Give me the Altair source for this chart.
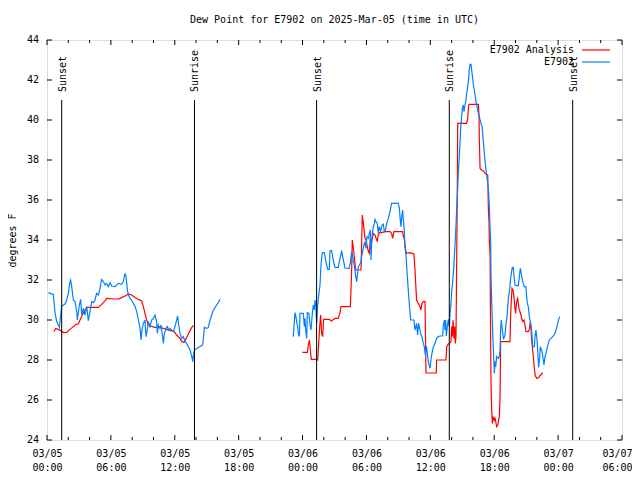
import altair as alt
import pandas as pd

MONO = "DejaVu Sans Mono"
TITLE = "Dew Point for E7902 on 2025-Mar-05 (time in UTC)"
Y_TITLE = "degrees F"
SERIES = ["E7902 Analysis", "E7902"]
COLORS = ["#ff0000", "#0080ff"]

# (hours after 2025-03-05 00:00 UTC, dew point in deg F)
analysis_day1 = [
    (0.66, 29.42), (0.81, 29.58), (1.06, 29.53), (1.28, 29.47), (1.53, 29.37), (1.85, 29.38),
    (2.16, 29.53), (2.47, 29.67), (2.72, 29.78), (2.94, 29.8), (3.10, 30.0), (3.32, 30.25),
    (3.57, 30.5), (3.73, 30.63), (4.82, 30.63), (5.13, 30.78), (5.45, 30.95), (5.60, 31.08),
    (6.23, 31.05), (6.70, 31.05), (7.01, 31.12), (7.33, 31.2), (7.64, 31.3), (7.95, 31.25),
    (8.27, 31.13), (8.58, 31.03), (8.89, 30.95), (9.05, 30.67), (9.20, 30.33), (9.36, 30.0),
    (9.52, 29.75), (9.67, 29.7), (10.14, 29.63), (10.61, 29.63), (10.93, 29.58), (11.24, 29.53),
    (11.55, 29.47), (11.87, 29.47), (12.02, 29.37), (12.18, 29.25), (12.49, 29.08), (12.65, 28.92),
    (12.87, 28.88), (13.02, 29.03), (13.27, 29.3), (13.49, 29.53), (13.68, 29.7), (13.84, 29.7),
]

analysis_day2 = [
    (23.98, 28.38), (24.45, 28.38), (24.54, 28.75), (24.64, 29.0), (24.73, 28.5), (24.82, 28.03),
    (25.32, 28.03), (25.42, 28.0), (25.51, 28.83), (25.61, 29.67), (25.70, 30.25), (25.79, 29.33),
    (25.89, 29.17), (25.98, 30.03), (26.51, 30.03), (26.73, 29.95), (26.89, 30.03), (27.05, 30.08),
    (27.36, 30.08), (27.52, 30.37), (27.61, 30.67), (28.49, 30.67), (28.55, 31.5), (28.61, 32.5),
    (28.67, 34.0), (28.77, 33.58), (28.86, 33.17), (28.99, 32.5), (29.49, 32.5), (29.55, 33.83),
    (29.61, 35.25), (29.71, 34.83), (29.80, 34.42), (29.86, 34.08), (29.96, 34.0), (30.05, 33.75),
    (30.11, 33.58), (30.18, 33.42), (30.27, 33.33), (30.37, 34.17), (30.43, 33.83), (30.55, 34.08),
    (30.65, 34.33), (30.80, 34.25), (31.02, 33.92), (31.11, 34.25), (31.27, 34.37), (31.43, 34.37),
    (31.74, 34.42), (32.21, 34.42), (32.36, 34.33), (32.46, 34.08), (32.58, 34.42), (33.40, 34.42),
    (33.46, 34.17), (33.55, 34.08), (33.65, 33.58), (33.77, 33.33), (34.09, 33.37), (34.46, 33.3),
    (34.56, 32.5), (34.65, 31.58), (34.71, 31.0), (34.87, 30.83), (35.03, 30.67), (35.12, 30.5),
    (35.21, 30.83), (35.34, 30.92), (35.50, 30.92), (35.59, 27.35), (36.56, 27.35), (36.59, 28.0),
    (37.47, 28.0), (37.54, 28.67), (37.69, 28.8), (37.79, 28.83), (37.94, 28.92), (38.0, 29.67),
    (38.07, 29.17), (38.13, 30.0), (38.22, 29.08), (38.29, 29.67), (38.35, 28.83), (38.41, 29.17),
    (38.48, 33.25), (38.54, 37.08), (38.57, 39.83), (39.41, 39.83), (39.51, 40.08), (39.60, 40.75),
    (39.67, 40.78), (40.51, 40.78), (40.57, 40.25), (40.60, 39.08), (40.67, 37.58), (40.82, 37.5),
    (40.98, 37.45), (41.14, 37.33), (41.29, 37.28), (41.39, 37.25), (41.45, 35.58), (41.51, 34.92),
    (41.54, 33.92), (41.61, 33.25), (41.67, 28.5), (41.70, 26.83), (41.76, 25.5), (41.83, 24.83),
    (41.92, 25.17), (42.01, 25.0), (42.08, 25.08), (42.17, 24.83), (42.23, 24.67), (42.33, 24.75),
    (42.39, 24.92), (42.48, 25.17), (42.55, 26.17), (42.60, 28.92), (43.48, 28.92), (43.54, 30.17),
    (43.60, 30.92), (43.67, 31.58), (43.76, 31.5), (43.85, 31.17), (43.95, 30.58), (44.01, 30.33),
    (44.07, 30.75), (44.14, 31.0), (44.20, 31.08), (44.26, 30.83), (44.32, 30.58), (44.42, 30.42),
    (44.51, 30.25), (44.61, 30.0), (44.70, 29.92), (44.79, 30.0), (44.89, 29.75), (44.98, 29.42),
    (45.20, 29.42), (45.30, 29.53), (45.39, 29.92), (45.45, 29.67), (45.51, 29.0), (45.61, 28.5),
    (45.70, 28.0), (45.77, 27.58), (45.86, 27.2), (46.02, 27.08), (46.17, 27.12), (46.27, 27.2),
    (46.36, 27.25), (46.45, 27.3), (46.55, 27.37),
]

obs_day1 = [
    (0.13, 31.37), (0.59, 31.28), (0.75, 30.37), (0.91, 29.92), (1.16, 29.63), (1.22, 29.92),
    (1.38, 30.70), (1.69, 30.80), (1.85, 31.0), (2.0, 31.33), (2.16, 31.92), (2.22, 32.0),
    (2.32, 31.67), (2.47, 31.0), (2.63, 30.92), (2.79, 30.42), (2.85, 30.0), (3.04, 30.75),
    (3.16, 31.03), (3.26, 30.25), (3.41, 30.58), (3.57, 30.25), (3.73, 30.67), (3.88, 29.97),
    (4.04, 30.42), (4.20, 30.92), (4.35, 30.87), (4.51, 31.0), (4.66, 31.33), (4.82, 31.25),
    (4.98, 31.58), (5.13, 32.03), (5.29, 31.92), (5.45, 31.75), (5.60, 31.83), (5.76, 31.67),
    (5.92, 31.87), (6.07, 31.7), (6.39, 31.67), (6.70, 31.83), (7.01, 31.78), (7.17, 31.92),
    (7.33, 32.33), (7.42, 32.17), (7.55, 31.5), (7.64, 31.25), (7.80, 31.08), (7.95, 31.0),
    (8.11, 30.83), (8.27, 30.67), (8.42, 30.42), (8.58, 30.0), (8.74, 29.58), (8.83, 29.0),
    (8.92, 29.5), (9.05, 29.83), (9.20, 30.0), (9.30, 29.17), (9.42, 29.5), (9.52, 29.92),
    (9.67, 29.67), (9.83, 30.0), (9.99, 30.08), (10.14, 30.25), (10.30, 29.92), (10.36, 29.33),
    (10.46, 29.75), (10.61, 29.58), (10.71, 29.75), (10.83, 29.25), (10.93, 28.83), (11.02, 29.33),
    (11.18, 29.58), (11.30, 29.67), (11.43, 29.5), (11.55, 29.58), (11.71, 29.5), (11.87, 29.42),
    (12.02, 29.67), (12.18, 30.0), (12.27, 30.2), (12.37, 29.75), (12.49, 29.33), (12.65, 29.08),
    (12.81, 29.17), (12.96, 28.92), (13.12, 28.83), (13.27, 28.67), (13.43, 28.5), (13.59, 28.2),
    (13.68, 27.92), (13.78, 28.33), (13.84, 28.5), (14.06, 28.58), (14.37, 28.67), (14.62, 28.75),
    (14.78, 29.63), (15.0, 29.58), (15.15, 29.63), (15.31, 30.0), (15.47, 30.25), (15.62, 30.5),
    (15.78, 30.62), (15.94, 30.75), (16.09, 30.88), (16.25, 31.03),
]

obs_day2 = [
    (23.13, 29.17), (23.29, 30.37), (23.38, 30.17), (23.45, 29.92), (23.54, 29.67), (23.60, 29.33),
    (23.70, 29.17), (23.76, 30.33), (24.07, 30.33), (24.17, 29.67), (24.23, 30.08), (24.29, 29.5),
    (24.39, 29.08), (24.45, 30.37), (24.60, 30.33), (24.70, 29.75), (24.79, 29.5), (24.92, 30.33),
    (25.01, 30.75), (25.11, 30.5), (25.17, 31.0), (25.26, 30.67), (25.32, 29.83), (25.42, 30.75),
    (25.48, 31.08), (25.64, 31.75), (25.73, 32.75), (25.86, 33.37), (26.04, 33.37), (26.17, 33.0),
    (26.26, 32.75), (26.36, 32.53), (26.51, 32.53), (26.58, 33.47), (26.73, 33.47), (26.83, 33.17),
    (26.95, 32.8), (27.05, 32.63), (27.36, 32.63), (27.45, 32.92), (27.58, 33.2), (27.67, 33.47),
    (27.77, 33.17), (27.86, 32.92), (27.99, 32.6), (28.36, 32.57), (28.49, 32.87), (28.55, 33.17),
    (28.61, 33.42), (28.71, 33.17), (28.77, 32.92), (28.86, 32.75), (28.92, 32.5), (28.99, 32.17),
    (29.08, 31.92), (29.18, 32.42), (29.24, 32.67), (29.39, 32.8), (29.49, 32.92), (29.55, 33.17),
    (29.64, 33.42), (29.77, 33.75), (29.86, 33.92), (29.96, 33.58), (30.05, 34.17), (30.18, 34.08),
    (30.27, 34.33), (30.37, 34.5), (30.43, 33.0), (30.49, 33.83), (30.58, 34.42), (30.65, 34.67),
    (30.74, 34.83), (30.80, 35.03), (30.89, 34.92), (31.02, 34.83), (31.11, 34.33), (31.21, 34.67),
    (31.33, 34.42), (31.46, 34.75), (31.58, 34.8), (31.68, 34.42), (31.80, 34.53), (31.90, 34.83),
    (32.05, 35.08), (32.21, 35.42), (32.36, 35.83), (32.99, 35.83), (33.09, 35.58), (33.15, 35.17),
    (33.24, 34.67), (33.30, 35.08), (33.40, 35.5), (33.46, 35.08), (33.55, 34.5), (33.62, 33.67),
    (33.71, 33.25), (33.84, 32.17), (33.93, 31.5), (34.03, 30.75), (34.15, 30.0), (34.46, 30.0),
    (34.56, 29.5), (34.71, 29.83), (34.81, 29.25), (34.90, 29.83), (35.03, 29.5), (35.12, 29.25),
    (35.21, 29.17), (35.34, 28.83), (35.43, 28.67), (35.53, 28.25), (35.65, 28.67), (35.75, 28.17),
    (35.84, 27.83), (35.97, 27.58), (36.06, 28.0), (36.15, 28.33), (36.28, 28.67), (36.44, 28.83),
    (36.59, 29.08), (36.75, 29.17), (36.91, 29.2), (37.16, 29.2), (37.22, 29.75), (37.32, 30.0),
    (37.38, 29.5), (37.44, 30.0), (37.5, 29.2), (37.60, 29.67), (37.69, 30.03), (37.79, 29.67),
    (37.85, 30.33), (37.94, 30.83), (38.0, 31.42), (38.10, 31.92), (38.16, 32.33), (38.22, 32.83),
    (38.32, 33.75), (38.41, 34.75), (38.48, 35.58), (38.57, 36.58), (38.63, 37.42), (38.73, 38.25),
    (38.79, 38.92), (38.85, 39.58), (38.94, 40.17), (39.01, 40.58), (39.10, 40.75), (39.16, 40.42),
    (39.26, 40.75), (39.35, 41.0), (39.41, 41.33), (39.51, 41.67), (39.60, 42.08), (39.67, 42.58),
    (39.73, 42.78), (39.82, 42.78), (39.88, 42.5), (39.98, 42.08), (40.04, 41.75), (40.13, 41.5),
    (40.20, 41.25), (40.29, 40.92), (40.42, 40.58), (40.51, 40.33), (40.60, 40.17), (40.67, 40.0),
    (40.76, 39.83), (40.86, 39.67), (40.98, 38.92), (41.08, 38.25), (41.17, 37.75), (41.29, 37.25),
    (41.45, 36.58), (41.54, 35.75), (41.61, 34.58), (41.67, 33.92), (41.70, 32.17), (41.76, 31.0),
    (41.86, 29.33), (41.92, 28.5), (41.98, 27.83), (42.01, 27.33), (42.08, 27.92), (42.14, 27.67),
    (42.23, 28.17), (42.39, 28.08), (42.48, 28.2), (42.55, 28.5), (42.60, 29.5), (42.66, 30.0),
    (42.73, 29.67), (42.82, 29.25), (42.88, 29.03), (43.01, 29.25), (43.10, 29.75), (43.20, 30.17),
    (43.26, 30.58), (43.35, 31.17), (43.45, 31.5), (43.51, 31.92), (43.60, 32.33), (43.70, 32.63),
    (43.79, 32.63), (43.85, 32.25), (43.95, 31.75), (44.26, 31.7), (44.36, 32.17), (44.45, 32.58),
    (44.54, 32.33), (44.64, 32.0), (44.73, 31.83), (44.83, 31.67), (44.98, 31.67), (45.04, 31.17),
    (45.11, 30.83), (45.20, 30.67), (45.30, 30.17), (45.39, 29.92), (45.51, 29.5), (45.61, 28.67),
    (45.77, 28.67), (45.83, 29.17), (45.92, 29.5), (46.02, 29.0), (46.11, 28.17), (46.17, 27.63),
    (46.27, 28.17), (46.33, 28.67), (46.42, 28.53), (46.52, 28.33), (46.61, 28.0), (46.67, 27.75),
    (46.77, 28.17), (46.86, 28.33), (46.96, 28.58), (47.08, 28.83), (47.17, 29.0), (47.33, 29.08),
    (47.49, 29.17), (47.64, 29.25), (47.77, 29.42), (47.89, 29.67), (48.02, 29.97), (48.14, 30.17),
]

SUN_HOURS = [1.38, 13.85, 25.32, 37.78, 49.37]
SUN_LABELS = ["Sunset", "Sunrise", "Sunset", "Sunrise", "Sunset"]
SUN_TOP = 41
SUN_LABEL_AT = 41.4

X_MAJOR = [0, 6, 12, 18, 24, 30, 36, 42, 48, 54]
X_MINOR = [2, 4, 8, 10, 14, 16, 20, 22, 26, 28, 32, 34, 38, 40, 44, 46, 50, 52]
X_DAY = ["03/05", "03/05", "03/05", "03/05", "03/06", "03/06", "03/06", "03/06", "03/07", "03/07"]
X_TIME = ["00:00", "06:00", "12:00", "18:00", "00:00", "06:00", "12:00", "18:00", "00:00", "06:00"]
Y_TICKS = [24, 26, 28, 30, 32, 34, 36, 38, 40, 42, 44]

W, H = 575, 400

rows = []
segments = [(SERIES[0], analysis_day1), (SERIES[0], analysis_day2),
            (SERIES[1], obs_day1), (SERIES[1], obs_day2)]
for seg_id, (name, pts) in enumerate(segments):
    for h, v in pts:
        rows.append({"hours": h, "value": v, "series": name, "seg": seg_id})
df = pd.DataFrame(rows)

label_expr = " : ".join(
    f"datum.value == {h} ? ['{d}', '{t}']" for h, d, t in zip(X_MAJOR, X_DAY, X_TIME)
) + " : ''"
last_test = f"datum.value == {X_MAJOR[-1]}"

x_scale = alt.Scale(domain=[X_MAJOR[0], X_MAJOR[-1]], nice=False, zero=False)
y_scale = alt.Scale(domain=[Y_TICKS[0], Y_TICKS[-1]], nice=False, zero=False)

x_axis = alt.Axis(values=X_MAJOR, labelExpr=label_expr, ticks=False, domain=False, grid=False,
                  labelFont=MONO, labelFontSize=10, labelColor="black", labelPadding=8,
                  labelLineHeight=14, labelBaseline="top", labelFlush=False,
                  labelOverlap=False, title=None,
                  labelAlign={"condition": {"test": last_test, "value": "right"}, "value": "center"},
                  labelOffset={"condition": {"test": last_test, "value": 10}, "value": 0})
y_axis = alt.Axis(labels=False, ticks=False, domain=False, grid=False,
                  title=Y_TITLE, titleFont=MONO, titleFontSize=10, titleFontWeight="normal",
                  titleColor="black", titleX=-35, titleY=H / 2, titleAngle=270,
                  titleAlign="center", titleBaseline="middle")

lines = alt.Chart(df).mark_line(strokeWidth=1.2, clip=True).encode(
    x=alt.X("hours:Q", scale=x_scale, axis=x_axis),
    y=alt.Y("value:Q", scale=y_scale, axis=y_axis),
    color=alt.Color("series:N", scale=alt.Scale(domain=SERIES, range=COLORS), legend=None),
    detail="seg:N",
    order="hours:Q",
)

sun_df = pd.DataFrame({"hours": SUN_HOURS, "label": SUN_LABELS})
sun_rules = alt.Chart(sun_df).mark_rule(color="black", strokeWidth=1).encode(
    x="hours:Q", y=alt.datum(SUN_TOP), y2=alt.datum(Y_TICKS[0])
)
sun_text = alt.Chart(sun_df).mark_text(
    angle=270, align="left", baseline="middle", font=MONO, fontSize=10, color="black", dy=1
).encode(x="hours:Q", y=alt.datum(SUN_LABEL_AT), text="label:N")

xmaj = pd.DataFrame({"hours": X_MAJOR})
xmin = pd.DataFrame({"hours": X_MINOR})
yt = pd.DataFrame({"value": Y_TICKS})
tick_layers = [
    alt.Chart(xmaj).mark_rule(color="black").encode(x="hours:Q", y=alt.value(H), y2=alt.value(H - 5)),
    alt.Chart(xmaj).mark_rule(color="black").encode(x="hours:Q", y=alt.value(0), y2=alt.value(5)),
    alt.Chart(xmin).mark_rule(color="black").encode(x="hours:Q", y=alt.value(H), y2=alt.value(H - 3)),
    alt.Chart(xmin).mark_rule(color="black").encode(x="hours:Q", y=alt.value(0), y2=alt.value(3)),
    alt.Chart(yt).mark_rule(color="black").encode(y="value:Q", x=alt.value(0), x2=alt.value(5)),
    alt.Chart(yt).mark_rule(color="black").encode(y="value:Q", x=alt.value(W), x2=alt.value(W - 5)),
]
y_labels = alt.Chart(yt).mark_text(
    align="right", baseline="middle", font=MONO, fontSize=10, color="black", dx=-8
).encode(y="value:Q", x=alt.value(0), text=alt.Text("value:Q", format="d"))

legend_layers = []
for i, (name, col) in enumerate(zip(SERIES, COLORS)):
    ldf = pd.DataFrame({"name": [name]})
    ypix = 10 + 12 * i
    legend_layers.append(
        alt.Chart(ldf).mark_text(align="right", baseline="middle", font=MONO, fontSize=10,
                                 color="black").encode(text="name:N", x=alt.value(527), y=alt.value(ypix))
    )
    legend_layers.append(
        alt.Chart(ldf).mark_rule(color=col, strokeWidth=1.2).encode(
            x=alt.value(535), x2=alt.value(563), y=alt.value(ypix))
    )

chart = alt.layer(lines, sun_rules, sun_text, *tick_layers, y_labels, *legend_layers).properties(
    width=W,
    height=H,
    title=alt.Title(TITLE, font=MONO, fontSize=10, fontWeight="normal", anchor="middle",
                    color="black", offset=10),
    padding={"left": 39, "top": 32, "right": 10, "bottom": 36},
    autosize=alt.AutoSizeParams(type="none"),
).configure_view(
    stroke="black", strokeWidth=1
).configure(background="white")

chart.save("out.html", embed_options={"renderer": "svg", "actions": False})
